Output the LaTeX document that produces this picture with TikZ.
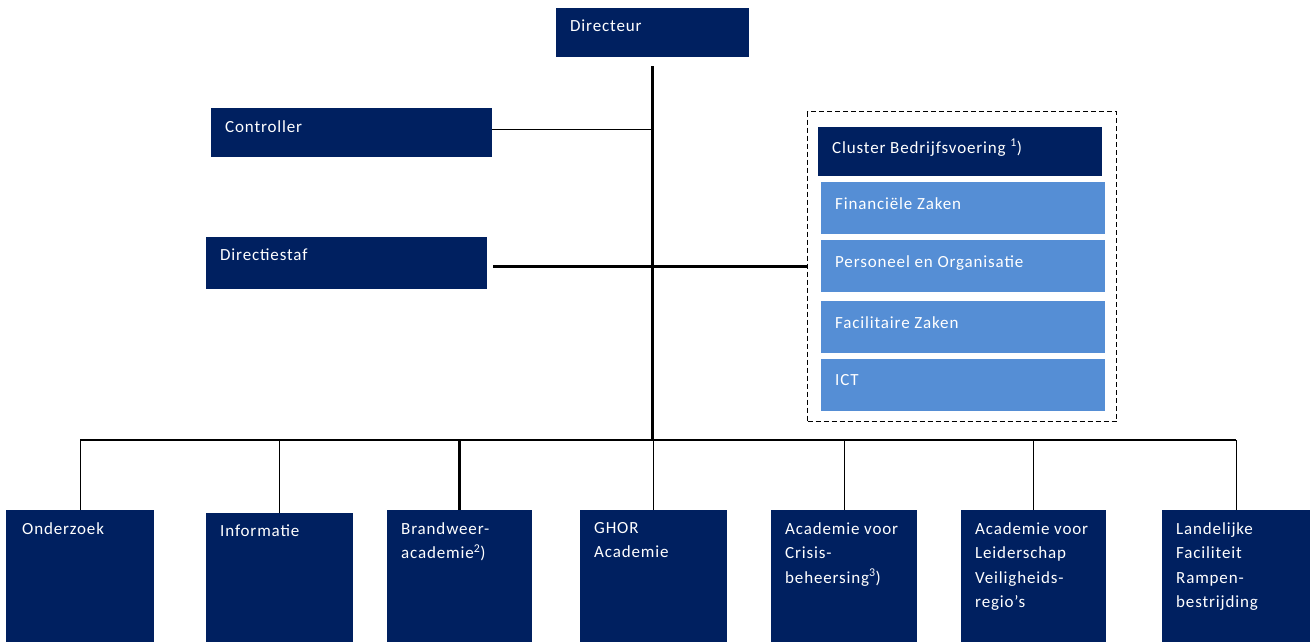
\documentclass[tikz,border=0pt]{standalone}
\usepackage{fontspec}
\setmainfont{Carlito}[LetterSpace=5]
\usetikzlibrary{positioning}
\definecolor{navy}{HTML}{002060}
\definecolor{lightblue}{HTML}{558ED5}
\tikzset{
    x=1pt, y=-1pt,
    unit/.style={ % dark boxes of the chart
        fill=navy,
        anchor=north west,
        inner sep=0pt
    },
    subunit/.style={ % light boxes inside the cluster
        unit,
        fill=lightblue
    },
    unittext/.style={ % white text in the top left corner
        anchor=north west,
        inner xsep=14pt, inner ysep=12pt,
        text=white, align=left,
        font=\fontsize{17}{24.5}\selectfont
    },
    heavy/.style={line width=2.6pt},
    light/.style={line width=0.8pt}
}

\begin{document}
\begin{tikzpicture}
    \useasboundingbox (0,0) rectangle (1310,642);

    % top
    \node[unit, minimum width=193pt, minimum height=49pt,
          label={[unittext]north west:Directeur}] (dir) at (556,8) {};
    \node[unit, minimum width=281pt, minimum height=49pt,
          label={[unittext]north west:Controller}] (ctrl) at (211,108) {};
    \node[unit, minimum width=281pt, minimum height=52pt,
          label={[unittext]north west:Directiestaf}] (staf) at (206,237) {};

    % cluster
    \node[anchor=north west, draw, dashed, line width=1.4pt,
          dash pattern=on 5pt off 3pt,
          minimum width=309pt, minimum height=310pt] (bv) at (807,111) {};
    \node[unit, minimum width=284pt, minimum height=49pt,
          label={[unittext]north west:Cluster Bedrijfsvoering \textsuperscript{1})}] (clus) at (818,127) {};
    \node[subunit, minimum width=284pt, minimum height=52pt,
          label={[unittext, inner ysep=15pt]north west:Financiële Zaken}] (fz) at (821,182) {};
    \node[subunit, minimum width=284pt, minimum height=52pt,
          label={[unittext, inner ysep=15pt]north west:Personeel en Organisatie}] (po) at (821,240) {};
    \node[subunit, minimum width=284pt, minimum height=52pt,
          label={[unittext, inner ysep=15pt]north west:Facilitaire Zaken}] (fac) at (821,301) {};
    \node[subunit, minimum width=284pt, minimum height=52pt,
          label={[unittext, inner ysep=15pt]north west:ICT}] (ict) at (821,359) {};

    % bottom row
    \node[unit, minimum width=148pt, minimum height=132pt,
          label={[unittext, inner xsep=16pt]north west:Onderzoek}] (ond) at (6,510) {};
    \node[unit, minimum width=147pt, minimum height=129pt,
          label={[unittext]north west:Informatie}] (inf) at (206,513) {};
    \node[unit, minimum width=145pt, minimum height=132pt,
          label={[unittext]north west:Brandweer-\\academie\textsuperscript{2})}] (brw) at (387,510) {};
    \node[unit, minimum width=147pt, minimum height=132pt,
          label={[unittext]north west:GHOR\\Academie}] (ghor) at (580,510) {};
    \node[unit, minimum width=146pt, minimum height=132pt,
          label={[unittext]north west:Academie voor\\Crisis-\\beheersing\textsuperscript{3})}] (acb) at (771,510) {};
    \node[unit, minimum width=145pt, minimum height=132pt,
          label={[unittext]north west:Academie voor\\Leiderschap\\Veiligheids-\\regio’s}] (alv) at (961,510) {};
    \node[unit, minimum width=148pt, minimum height=132pt,
          label={[unittext]north west:Landelijke\\Faciliteit\\Rampen-\\bestrijding}] (lfr) at (1162,510) {};

    % connectors
    \coordinate (trunk) at ([yshift=-9pt]dir.south);
    \coordinate (bus) at (trunk |- 0,440);
    \draw[heavy] (trunk) -- (bus);
    \draw[heavy] (ond.north |- bus) -- (lfr.north |- bus);
    \draw[light] ([yshift=3pt]ctrl.east) -- ([yshift=3pt]ctrl.east -| bus);
    \draw[heavy] ([xshift=6pt, yshift=-3pt]staf.east) -- ([yshift=-3pt]staf.east -| bv.west);
    \foreach \b in {ond, inf, acb, alv, lfr}
        \draw[light] (\b.north) -- (\b.north |- bus);
    \draw[heavy] (brw.north) -- (brw.north |- bus);
    \draw[line width=1.3pt] (ghor.north) -- (ghor.north |- bus);
\end{tikzpicture}
\end{document}
